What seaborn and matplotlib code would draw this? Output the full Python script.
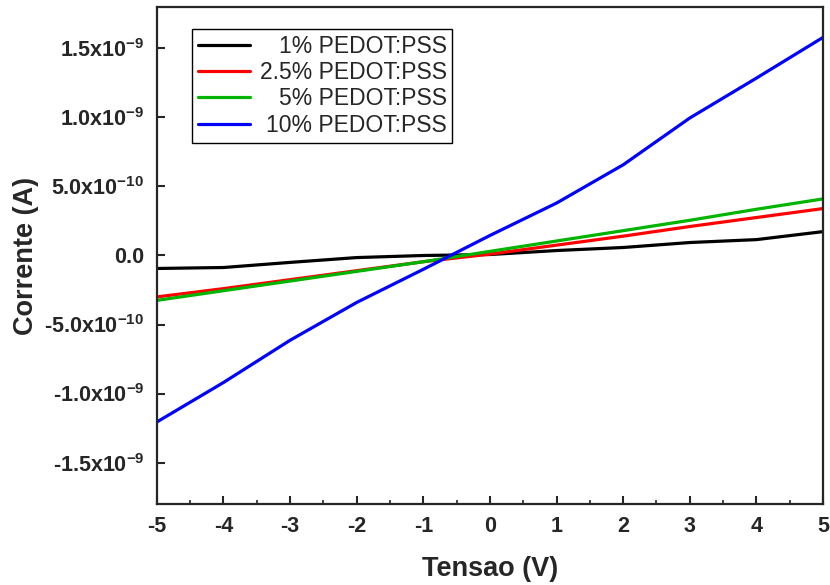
import numpy as np
import pandas as pd
import matplotlib
matplotlib.use("Agg")
import matplotlib.pyplot as plt
import seaborn as sns
from matplotlib.ticker import FixedLocator, MultipleLocator

voltage = [-5, -4, -3, -2, -1, 0, 1, 2, 3, 4, 5]
i_1 = [-0.094, -0.087, -0.05, -0.015, 0.0, 0.007, 0.036, 0.058, 0.094, 0.115, 0.173]
i_25 = [-0.30, -0.24, -0.175, -0.11, -0.045, 0.01, 0.075, 0.14, 0.21, 0.275, 0.34]
i_5 = [-0.325, -0.255, -0.185, -0.115, -0.045, 0.03, 0.105, 0.18, 0.255, 0.335, 0.41]
i_10 = [-1.206, -0.92, -0.614, -0.34, -0.10, 0.145, 0.38, 0.657, 0.996, 1.285, 1.58]
labels = ["1% PEDOT:PSS", "2.5% PEDOT:PSS", "5% PEDOT:PSS", "10% PEDOT:PSS"]
colors = ["#000000", "#ff0000", "#00b400", "#0000ff"]
yticks = [-1.5e-9, -1.0e-9, -5e-10, 0.0, 5e-10, 1.0e-9, 1.5e-9]
ytick_labels = [r"-1.5x10$^{-9}$", r"-1.0x10$^{-9}$", r"-5.0x10$^{-10}$", "0.0",
                r"5.0x10$^{-10}$", r"1.0x10$^{-9}$", r"1.5x10$^{-9}$"]

rows = []
for lab, ser in zip(labels, [i_1, i_25, i_5, i_10]):
    for v, c in zip(voltage, ser):
        rows.append({"V": v, "I": c * 1e-9, "s": lab})
df = pd.DataFrame(rows)

sns.set_style("ticks")
plt.rcParams["font.family"] = ["Liberation Sans", "DejaVu Sans"]
plt.rcParams["mathtext.fontset"] = "custom"
plt.rcParams["mathtext.rm"] = "Liberation Sans:bold"
plt.rcParams["mathtext.it"] = "Liberation Sans:bold"
plt.rcParams["mathtext.bf"] = "Liberation Sans:bold"
plt.rcParams["axes.unicode_minus"] = False

fig = plt.figure(figsize=(8.3, 5.85), dpi=100)
ax = fig.add_axes([0.189, 0.1385, 0.8026, 0.8495])
sns.lineplot(data=df, x="V", y="I", hue="s", hue_order=labels,
             palette=colors, linewidth=2.3, ax=ax, legend=False, sort=False)
for lab, col in zip(labels, colors):
    ax.plot([], [], color=col, linewidth=2.3, label=lab)

ax.set_xlim(-5, 5)
ax.set_ylim(-1.8e-9, 1.8e-9)
ax.xaxis.set_major_locator(MultipleLocator(1))
ax.xaxis.set_minor_locator(MultipleLocator(0.5))
ax.yaxis.set_major_locator(FixedLocator(yticks))
ax.set_yticklabels(ytick_labels)
ax.tick_params(axis="both", which="major", direction="in", length=6, width=1.5,
               labelsize=15.5)
ax.tick_params(axis="x", which="minor", direction="in", length=3, width=1.2)
ax.tick_params(axis="x", pad=9)
ax.tick_params(axis="y", pad=9)
for lab in ax.get_xticklabels() + ax.get_yticklabels():
    lab.set_fontweight("bold")
for sp in ax.spines.values():
    sp.set_linewidth(1.6)
    sp.set_visible(True)
ax.set_xlabel("Tensao (V)", fontsize=19.5, fontweight="bold")
ax.set_ylabel("Corrente (A)", fontsize=19.5, fontweight="bold")
ax.xaxis.set_label_coords(0.5, -0.104)
ax.yaxis.set_label_coords(-0.177, 0.5)

leg = ax.legend(loc="upper left", bbox_to_anchor=(0.0526, 0.956), fontsize=16.5,
                frameon=True, fancybox=False, edgecolor="black", framealpha=1,
                handlelength=2.3, handletextpad=0.4, borderpad=0.25,
                labelspacing=0.15, borderaxespad=0)
leg.get_frame().set_linewidth(1.0)
fig.canvas.draw()
renderer = fig.canvas.get_renderer()
widths = [t.get_window_extent(renderer).width for t in leg.get_texts()]
wmax = max(widths)
for t, w in zip(leg.get_texts(), widths):
    t.set_position((wmax - w, 0))

fig.savefig("out.png", dpi=100)
